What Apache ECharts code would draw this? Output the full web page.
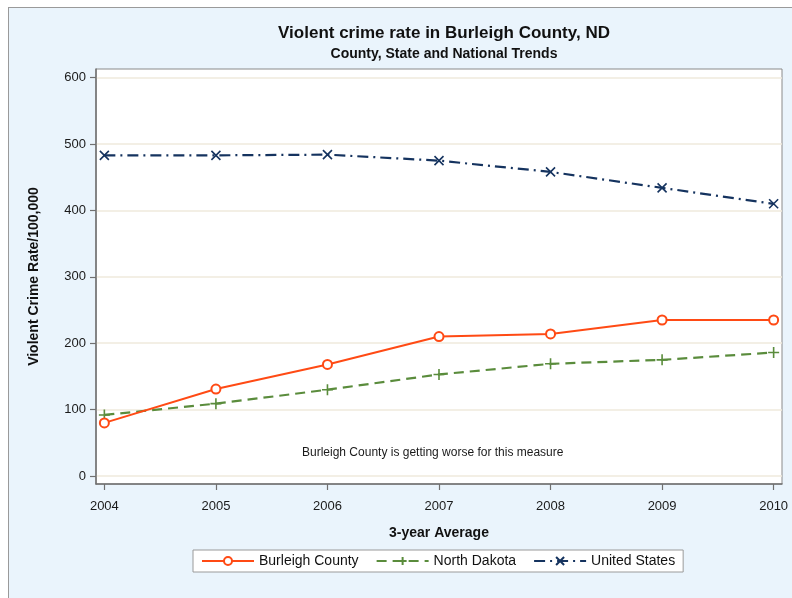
<!DOCTYPE html>
<html>
<head>
<meta charset="utf-8">
<script src="https://cdn.jsdelivr.net/npm/echarts@6/dist/echarts.min.js"></script>
<style>
  html, body { margin: 0; padding: 0; background: #ffffff; }
  #frame { position: absolute; left: 8px; top: 7px; width: 784px; height: 591px; background: #eaf4fc; border-left: 1px solid #9a9a9a; border-top: 1px solid #9a9a9a; }
  #chart { position: absolute; left: 0; top: 0; width: 792px; height: 598px; }
</style>
</head>
<body>
<div id="frame"></div>
<div id="chart"></div>
<script>
const years = [2004, 2005, 2006, 2007, 2008, 2009, 2010];
const burleigh = [80, 131, 168, 210, 214, 235, 235];
const northDakota = [92, 109, 130, 153, 169, 175, 186];
const unitedStates = [483, 483, 484, 475, 458, 434, 410];
const yTicks = [0, 100, 200, 300, 400, 500, 600];
const seriesNames = ['Burleigh County', 'North Dakota', 'United States'];

const FONT = '"Liberation Sans", Arial, sans-serif';
const pair = (vals) => years.map((y, i) => [y, vals[i]]);

const chart = echarts.init(document.getElementById('chart'), null, { renderer: 'canvas' });
chart.setOption({
  backgroundColor: 'transparent',
  animation: false,
  textStyle: { fontFamily: FONT, color: '#1a1a1a' },
  title: [
    { text: 'Violent crime rate in Burleigh County, ND', left: 439, textAlign: 'center', top: 20,
      textStyle: { fontFamily: FONT, fontSize: 17, fontWeight: 'bold', color: '#111' } },
    { text: 'County, State and National Trends', left: 439, textAlign: 'center', top: 42,
      textStyle: { fontFamily: FONT, fontSize: 14, fontWeight: 'bold', color: '#111' } }
  ],
  grid: { left: 96, right: 10, top: 69, bottom: 114, show: true, backgroundColor: '#ffffff', borderColor: '#8a8a8a', borderWidth: 1 },
  xAxis: {
    type: 'value', min: 2003.925, max: 2010.075,
    name: '3-year Average', nameLocation: 'middle', nameGap: 42,
    nameTextStyle: { fontFamily: FONT, fontSize: 14, fontWeight: 'bold', color: '#111' },
    axisLine: { show: true, onZero: false, lineStyle: { color: '#707070', width: 1.5 } },
    axisTick: { show: true, inside: false, length: 6, customValues: years, lineStyle: { color: '#707070', width: 1.2 } },
    axisLabel: { customValues: years, fontFamily: FONT, fontSize: 13, color: '#1a1a1a', margin: 16, formatter: v => String(Math.round(v)) },
    splitLine: { show: false }
  },
  yAxis: {
    type: 'value', min: -12, max: 613,
    name: 'Violent Crime Rate/100,000', nameLocation: 'middle', nameGap: 55,
    nameTextStyle: { fontFamily: FONT, fontSize: 14, fontWeight: 'bold', color: '#111' },
    axisLine: { show: true, onZero: false, lineStyle: { color: '#707070', width: 1.5 } },
    axisTick: { show: true, inside: false, length: 6, customValues: yTicks, lineStyle: { color: '#707070', width: 1.2 } },
    axisLabel: { customValues: yTicks, fontFamily: FONT, fontSize: 13, color: '#1a1a1a', margin: 10 },
    splitLine: { show: true, lineStyle: { color: '#efeadc', width: 1.5 } }
  },
  legend: {
    data: seriesNames, left: 193, top: 550, orient: 'horizontal',
    backgroundColor: '#ffffff', borderColor: '#9a9a9a', borderWidth: 1, borderRadius: 0,
    padding: [4, 8, 4, 8], itemGap: 17, itemWidth: 52, itemHeight: 10,
    textStyle: { fontFamily: FONT, fontSize: 14, color: '#111' }
  },
  graphic: [
    { type: 'text', left: 439 - 137, top: 447, style: { text: 'Burleigh County is getting worse for this measure', font: '12px ' + FONT, fill: '#1a1a1a' } }
  ],
  series: [
    { name: seriesNames[0], type: 'line', data: pair(burleigh), z: 4,
      symbol: 'emptyCircle', symbolSize: 9,
      lineStyle: { color: '#ff4a14', width: 2 },
      itemStyle: { color: '#ff4a14', borderColor: '#ff4a14', borderWidth: 1.3 } },
    { name: seriesNames[1], type: 'line', data: pair(northDakota), z: 3,
      symbol: 'path://M5,0L5,10M0,5L10,5', symbolSize: 11,
      lineStyle: { color: '#5a8c3c', width: 2.2, type: [10, 6] },
      itemStyle: { color: 'rgba(0,0,0,0)', borderColor: '#5a8c3c', borderWidth: 1.6 } },
    { name: seriesNames[2], type: 'line', data: pair(unitedStates), z: 3,
      symbol: 'path://M0,0L10,10M10,0L0,10', symbolSize: 9,
      lineStyle: { color: '#15335f', width: 2.2, type: [11, 5, 2, 5] },
      itemStyle: { color: 'rgba(0,0,0,0)', borderColor: '#15335f', borderWidth: 1.6 } }
  ]
});
</script>
</body>
</html>
